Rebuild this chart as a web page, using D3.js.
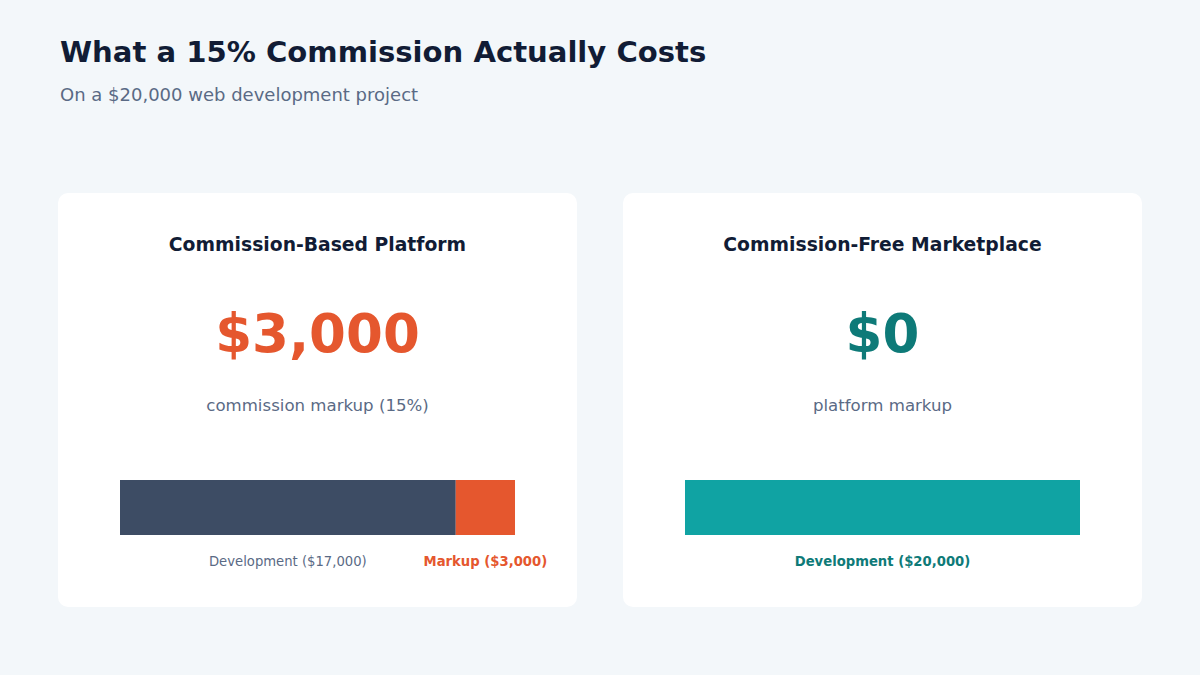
<!DOCTYPE html>
<html>
<head>
<meta charset="utf-8">
<script src="https://cdn.jsdelivr.net/npm/d3@7"></script>
<style>
  body { margin: 0; background: #f3f7fa; }
  svg { display: block; font-family: "DejaVu Sans", sans-serif; }
</style>
</head>
<body>
<svg id="chart" width="1200" height="675"></svg>
<script>
// data
const projectTotal = 20000;
const cardTitles = ["Commission-Based Platform", "Commission-Free Marketplace"];
const markupValues = [3000, 0];
const markupCaptions = ["commission markup (15%)", "platform markup"];
const segmentNames = [["Development", "Markup"], ["Development"]];
const segmentValues = [[17000, 3000], [20000]];

const W = 1200, H = 675;
const svg = d3.select("#chart");

svg.append("rect").attr("width", W).attr("height", H).attr("fill", "#f3f7fa");

svg.append("text")
    .attr("x", 60).attr("y", 61.5)
    .attr("font-size", 29.1).attr("font-weight", "bold")
    .attr("fill", "#111c35")
    .text("What a 15% Commission Actually Costs");

svg.append("text")
    .attr("x", 60).attr("y", 101)
    .attr("font-size", 18)
    .attr("fill", "#5a6a85")
    .text("On a $20,000 web development project");

const fmt = d3.format("$,");

// card positions
const cardX = d3.scaleBand().domain(d3.range(cardTitles.length)).range([58, 1142]).paddingInner(0.0814);
const cardTop = 193, cardH = 414;

const segColors = [["#3d4c64", "#e5572e"], ["#10a3a3"]];
const labelColors = [["#5a6a85", "#e5572e"], ["#0e7a78"]];
const labelWeights = [["normal", "bold"], ["bold"]];
const bigColors = ["#e5572e", "#0e7a78"];

cardTitles.forEach((title, i) => {
    const x0 = cardX(i), w = cardX.bandwidth(), cx = x0 + w / 2;
    const g = svg.append("g");

    g.append("rect")
        .attr("x", x0).attr("y", cardTop)
        .attr("width", w).attr("height", cardH)
        .attr("rx", 10)
        .attr("fill", "#ffffff");

    g.append("text")
        .attr("x", cx).attr("y", 250.5)
        .attr("text-anchor", "middle")
        .attr("font-size", 18.75).attr("font-weight", "bold")
        .attr("fill", "#111c35")
        .text(title);

    g.append("text")
        .attr("x", cx).attr("y", 352)
        .attr("text-anchor", "middle")
        .attr("font-size", 53).attr("font-weight", "bold")
        .attr("fill", bigColors[i])
        .text(fmt(markupValues[i]));

    g.append("text")
        .attr("x", cx).attr("y", 410.5)
        .attr("text-anchor", "middle")
        .attr("font-size", 16.6)
        .attr("fill", "#5a6a85")
        .text(markupCaptions[i]);

    // stacked bar
    const xs = d3.scaleLinear().domain([0, projectTotal]).range([x0 + 62, x0 + w - 62]);
    let acc = 0;
    segmentValues[i].forEach((v, j) => {
        const a = acc, b = acc + v;
        acc = b;
        g.append("rect")
            .attr("x", xs(a)).attr("y", 480)
            .attr("width", xs(b) - xs(a)).attr("height", 55)
            .attr("fill", segColors[i][j]);
        g.append("text")
            .attr("x", (xs(a) + xs(b)) / 2).attr("y", 565.5)
            .attr("text-anchor", "middle")
            .attr("font-size", 13.2)
            .attr("font-weight", labelWeights[i][j])
            .attr("fill", labelColors[i][j])
            .text(`${segmentNames[i][j]} (${fmt(v)})`);
    });
});
</script>
</body>
</html>
